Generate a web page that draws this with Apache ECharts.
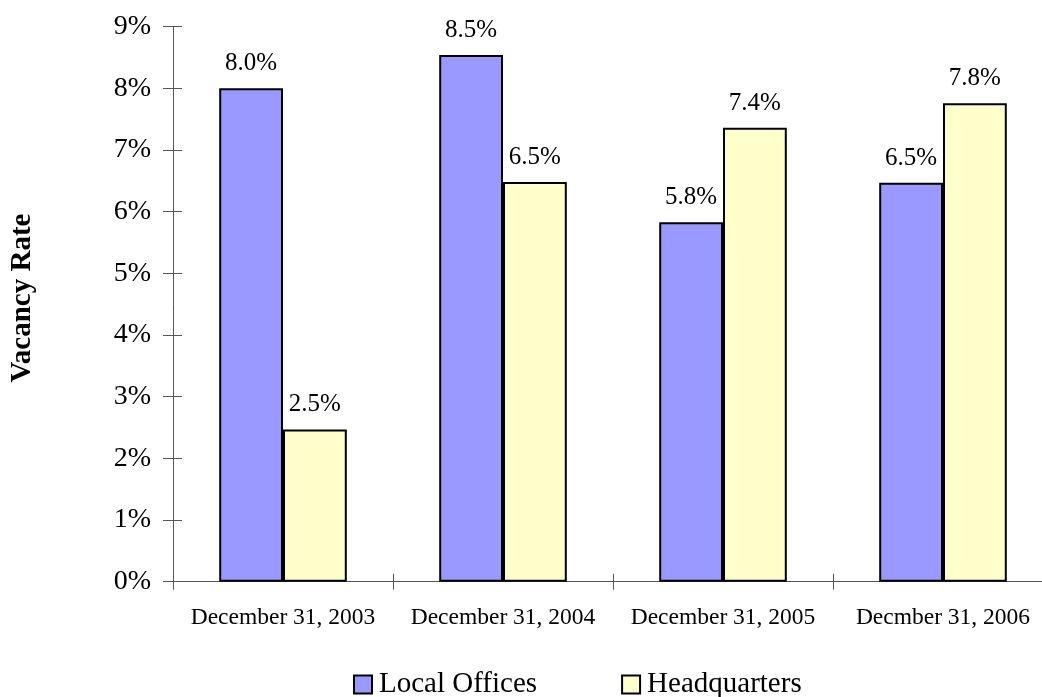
<!DOCTYPE html>
<html>
<head>
<meta charset="utf-8">
<script src="https://cdn.jsdelivr.net/npm/echarts@6/dist/echarts.min.js"></script>
<style>
html,body{margin:0;padding:0;background:#fff;overflow:hidden;width:1042px;height:697px;}
#chart{width:1060px;height:697px;}
</style>
</head>
<body>
<div id="chart"></div>
<script>
const categories = ['December 31, 2003', 'December 31, 2004', 'December 31, 2005', 'Decmber 31, 2006'];
const seriesNames = ['Local Offices', 'Headquarters'];
const localOffices = [8.0, 8.54, 5.83, 6.47];
const headquarters = [2.47, 6.48, 7.36, 7.76];
const yTicks = [0, 1, 2, 3, 4, 5, 6, 7, 8, 9];
const yTitle = 'Vacancy Rate';

const FONT = '"Liberation Serif", "Times New Roman", serif';
const AXIS_COLOR = '#555555';

const chart = echarts.init(document.getElementById('chart'));

const labelOpt = {
  show: true,
  position: 'top',
  distance: 12,
  fontFamily: FONT,
  fontSize: 25,
  color: '#000',
  formatter: p => p.value.toFixed(1) + '%'
};

chart.setOption({
  animation: false,
  backgroundColor: '#ffffff',
  grid: { left: 173, right: 7, top: 26.7, bottom: 115.3, containLabel: false },
  graphic: [{
    type: 'text',
    x: 23,
    y: 298,
    rotation: Math.PI / 2,
    style: {
      text: yTitle,
      fontFamily: FONT,
      fontSize: 29,
      fontWeight: 'bold',
      fill: '#000',
      textAlign: 'center',
      textVerticalAlign: 'middle'
    }
  }],
  legend: {
    data: seriesNames,
    left: 353,
    top: 670,
    icon: 'rect',
    itemWidth: 18,
    itemHeight: 18,
    itemGap: 84,
    padding: 0,
    textStyle: { fontFamily: FONT, fontSize: 29, color: '#000', padding: [0, 0, 0, 2] },
    itemStyle: { borderColor: '#000', borderWidth: 2 }
  },
  xAxis: [
    {
      type: 'category',
      data: categories,
      axisLine: { lineStyle: { color: AXIS_COLOR, width: 1 } },
      axisTick: { show: true, length: 8, lineStyle: { color: AXIS_COLOR } },
      axisLabel: { fontFamily: FONT, fontSize: 23.5, color: '#000', margin: 24, interval: 0 }
    },
    {
      type: 'category',
      data: categories,
      position: 'bottom',
      axisLine: { show: false },
      axisTick: { show: true, inside: true, length: 8, lineStyle: { color: AXIS_COLOR } },
      axisLabel: { show: false }
    }
  ],
  yAxis: [
    {
      type: 'value',
      min: yTicks[0],
      max: yTicks[yTicks.length - 1],
      interval: 1,
      axisLine: { show: true, lineStyle: { color: AXIS_COLOR, width: 1 } },
      axisTick: { show: true, length: 10, lineStyle: { color: AXIS_COLOR } },
      splitLine: { show: false },
      axisLabel: { fontFamily: FONT, fontSize: 28, color: '#000', margin: 22, formatter: '{value}%' }
    },
    {
      type: 'value',
      position: 'left',
      min: yTicks[0],
      max: yTicks[yTicks.length - 1],
      interval: 1,
      axisLine: { show: false },
      axisTick: { show: true, inside: true, length: 9, lineStyle: { color: AXIS_COLOR } },
      splitLine: { show: false },
      axisLabel: { show: false }
    }
  ],
  series: [
    {
      name: seriesNames[0],
      type: 'bar',
      data: localOffices,
      barGap: '0%',
      barCategoryGap: '42%',
      itemStyle: { color: '#9999FF', borderColor: '#000', borderWidth: 2 },
      label: labelOpt
    },
    {
      name: seriesNames[1],
      type: 'bar',
      data: headquarters,
      barGap: '0%',
      barCategoryGap: '42%',
      itemStyle: { color: '#FFFFCC', borderColor: '#000', borderWidth: 2 },
      label: labelOpt
    }
  ]
});
</script>
</body>
</html>
